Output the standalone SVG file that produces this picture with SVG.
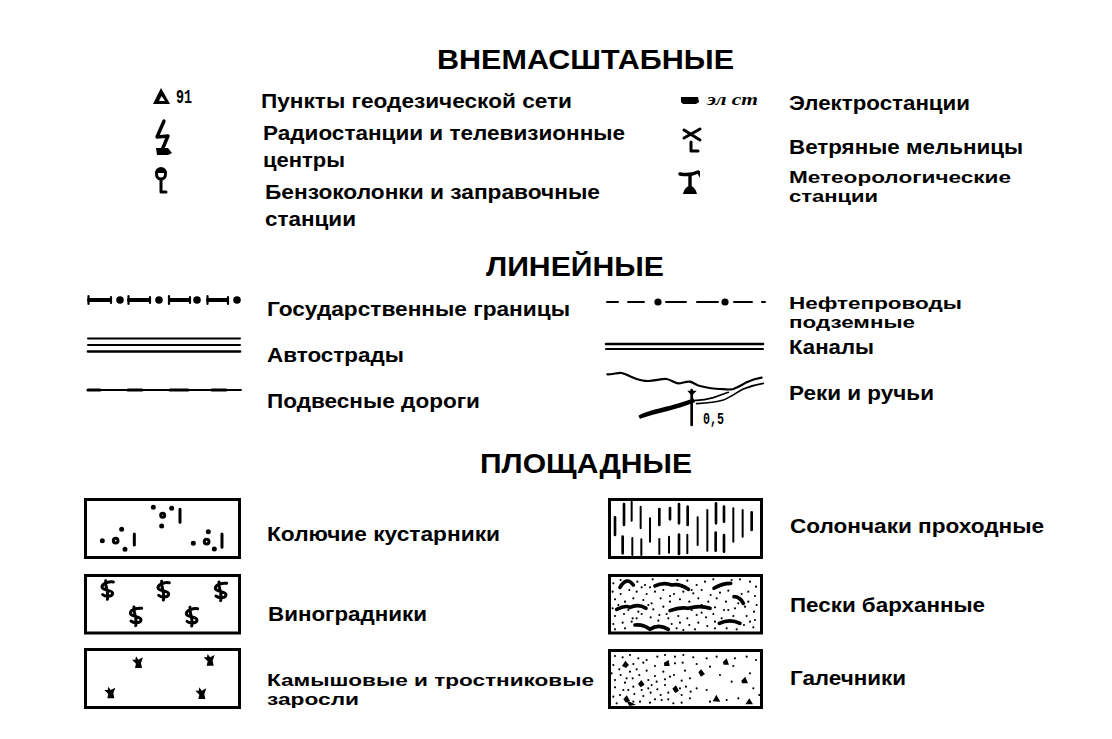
<svg xmlns="http://www.w3.org/2000/svg" xmlns:xlink="http://www.w3.org/1999/xlink" width="1112" height="739" viewBox="0 0 1112 739">
<style>
text{font-family:"Liberation Sans",Arial,sans-serif;font-weight:700;fill:#000}
.t{font-size:27px}
.l{font-size:20px}
.n{font-size:17px}
.s{fill:none;stroke:#000;stroke-linecap:round;stroke-linejoin:round}
.k{fill:#000;stroke:none}
.b{fill:#fff;stroke:#000;stroke-width:3}
.z{fill:none;stroke:#000;stroke-linecap:round;stroke-linejoin:round;stroke-width:11}
</style>
<defs>
<path id="dollar" class="s" stroke-width="9" d="M18-22C6-24-16-18-16-7C-16 4 16 1 16 12C16 22-4 24-14 16M-5-26C-8-8 6 8 0 30"/>
<path id="reed" class="k" d="M-19-10L-9-10L-7-20L0-10L14-17L8 0L11 15L-10 15L-7 2Z"/>
</defs>
<rect width="1112" height="739" fill="#fff"/>

<text class="t" x="437" y="69" textLength="297" lengthAdjust="spacingAndGlyphs">ВНЕМАСШТАБНЫЕ</text>
<text class="t" x="486" y="276" textLength="178" lengthAdjust="spacingAndGlyphs">ЛИНЕЙНЫЕ</text>
<text class="t" x="480" y="473" textLength="212" lengthAdjust="spacingAndGlyphs">ПЛОЩАДНЫЕ</text>

<g id="geodetic">
<path class="k" d="M153 104L161 88L170 104ZM159 101H165L161.500 96Z"/>
<text x="176" y="103" style="font-family:'Liberation Mono',monospace;font-size:20px;font-weight:700" textLength="16" lengthAdjust="spacingAndGlyphs">91</text>
<text class="l" x="261" y="108" textLength="311" lengthAdjust="spacingAndGlyphs">Пункты геодезической сети</text>
</g>
<g id="radio">
<path class="s" stroke-width="3.400" d="M164 121L157 137L168 136L162 150"/>
<path class="k" d="M156 148H168L172 153L168 155H157Z"/>
<text class="l" x="263" y="140" textLength="362" lengthAdjust="spacingAndGlyphs">Радиостанции и телевизионные</text>
<text class="l" x="263" y="167" textLength="82" lengthAdjust="spacingAndGlyphs">центры</text>
</g>
<g id="fuel">
<path class="s" stroke-width="3" d="M156.500 174a4.500 4.500 0 0 1 9 0c0 3-2 5-4.500 5c-2.500 0-4.500-2-4.500-5ZM161 179V192H166"/>
<path class="k" d="M155 173a6 6 0 0 1 12 0Z"/>
<text class="l" x="265" y="199" textLength="335" lengthAdjust="spacingAndGlyphs">Бензоколонки и заправочные</text>
<text class="l" x="265" y="226" textLength="91" lengthAdjust="spacingAndGlyphs">станции</text>
</g>
<g id="power">
<path class="k" d="M681 97H698L699 102L696 104H683L681 102Z"/>
<text x="707" y="105" style="font-family:'Liberation Serif',serif;font-style:italic;font-size:17px" textLength="51" lengthAdjust="spacingAndGlyphs">эл ст</text>
<text class="l" x="789" y="110" textLength="181" lengthAdjust="spacingAndGlyphs">Электростанции</text>
</g>
<g id="windmill">
<path class="s" stroke-width="3" d="M684 130L700 140M684 138L700 129M691 142V151H698"/>
<text class="l" x="789" y="154" textLength="234" lengthAdjust="spacingAndGlyphs">Ветряные мельницы</text>
</g>
<g id="meteo">
<path class="s" stroke-width="3.400" d="M680 174C686 175 692 175 698 172M690 174V188"/>
<path class="k" d="M683 194C684 189 687 186 690 186C693 186 696 189 697 194ZM696 171H700V178Z"/>
<text class="l n" x="789" y="183" textLength="222" lengthAdjust="spacingAndGlyphs">Метеорологические</text>
<text class="l n" x="789" y="202" textLength="89" lengthAdjust="spacingAndGlyphs">станции</text>
</g>

<g id="border">
<path class="s" stroke-width="4" d="M89 300H110M129 300H149M170 300H189M208 300H227"/>
<path class="s" stroke-width="2.200" d="M88.500 296V304M111 297V303M128.500 296V304M150 297V303M169 296V304M190 297V303M207.500 296V304M228 297V304"/>
<circle class="k" cx="120" cy="300" r="3.800"/><circle class="k" cx="159" cy="300" r="3.800"/><circle class="k" cx="197" cy="300" r="3.800"/><circle class="k" cx="237" cy="300" r="3.800"/>
<text class="l" x="267" y="316" textLength="303" lengthAdjust="spacingAndGlyphs">Государственные границы</text>
</g>
<g id="motorway">
<path class="s" stroke-width="2" d="M88 338.500H240M88 345H240"/>
<path class="s" stroke-width="2.600" d="M88 351.500H240"/>
<text class="l" x="267" y="362" textLength="137" lengthAdjust="spacingAndGlyphs">Автострады</text>
</g>
<g id="hanging">
<path class="s" stroke-width="1.800" d="M88 390H241"/>
<path class="s" stroke-width="3.200" d="M88 390H100M128 390H142M170 390H188M212 390H226"/>
<text class="l" x="267" y="408" textLength="213" lengthAdjust="spacingAndGlyphs">Подвесные дороги</text>
</g>
<g id="pipeline">
<path class="s" stroke-width="2" d="M607 302H618M628 302H644M666 302H686M697 302H718M734 302H752M762 302H765"/>
<circle class="k" cx="658" cy="302" r="3.600"/><circle class="k" cx="725" cy="302" r="3.600"/>
<text class="l n" x="789" y="309" textLength="173" lengthAdjust="spacingAndGlyphs">Нефтепроводы</text>
<text class="l n" x="789" y="328" textLength="126" lengthAdjust="spacingAndGlyphs">подземные</text>
</g>
<g id="canal">
<path class="s" stroke-width="2.600" d="M606 344H763"/>
<path class="s" stroke-width="2" d="M606 349H763"/>
<text class="l" x="789" y="354" textLength="85" lengthAdjust="spacingAndGlyphs">Каналы</text>
</g>
<g id="river">
<g transform="translate(600 285) scale(.3333)">
<path class="s" stroke-width="6.500" d="M22 268C40 268 55 262 65 264C80 268 90 275 100 278C115 284 130 288 145 288C165 288 185 280 200 282C215 285 225 295 235 295C247 295 258 288 270 290C282 293 288 301 300 303C320 308 340 312 360 312C375 313 390 315 400 312C415 307 428 298 440 292C455 285 470 280 485 278"/>
<path class="s" stroke-width="5" d="M280 347C300 346 320 344 340 338C355 333 370 328 385 322M290 356C320 354 345 352 370 345C390 338 410 322 430 312C450 304 470 298 490 295"/>
<path class="k" d="M115 392C150 372 220 365 280 340L285 352C230 374 170 385 120 401Z"/>
<path class="s" stroke-width="8" d="M275 315V420"/>
<path class="k" d="M262 317H290L275 332Z"/>
</g>
<text x="703" y="424" style="font-family:'Liberation Mono',monospace;font-size:17px" textLength="21" lengthAdjust="spacingAndGlyphs">0,5</text>
<text class="l" x="789" y="400" textLength="145" lengthAdjust="spacingAndGlyphs">Реки и ручьи</text>
</g>

<g id="thorn">
<rect class="b" x="85.500" y="499.500" width="154" height="58"/>
<g transform="translate(75 490) scale(.3333)">
<path class="s" stroke-width="15" d="M235 52h0M290 55h0M260 108h0M140 118h0M82 152h0M150 178h0M400 125h0M355 160h0M418 177h0"/>
<circle cx="263" cy="76" r="6" class="s" stroke-width="9"/><circle cx="122" cy="152" r="7" class="s" stroke-width="9"/><circle cx="395" cy="155" r="7" class="s" stroke-width="9"/>
<path class="s" stroke-width="9" d="M315 58V97M178 132V165M441 132V172"/>
</g>
<text class="l" x="267" y="541" textLength="233" lengthAdjust="spacingAndGlyphs">Колючие кустарники</text>
</g>
<g id="vineyard">
<rect class="b" x="85.500" y="575.500" width="154" height="57.500"/>
<g transform="translate(75 490) scale(.3333)">
<use xlink:href="#dollar" href="#dollar" x="97" y="298"/><use xlink:href="#dollar" href="#dollar" x="265" y="300"/><use xlink:href="#dollar" href="#dollar" x="437" y="302"/><use xlink:href="#dollar" href="#dollar" x="182" y="377"/><use xlink:href="#dollar" href="#dollar" x="350" y="378"/>
</g>
<text class="l" x="268" y="621" textLength="159" lengthAdjust="spacingAndGlyphs">Виноградники</text>
</g>
<g id="reeds">
<rect class="b" x="85.500" y="649.500" width="154" height="58"/>
<g transform="translate(75 640) scale(.3333)">
<use xlink:href="#reed" href="#reed" x="190" y="69"/><use xlink:href="#reed" href="#reed" x="405" y="62"/><use xlink:href="#reed" href="#reed" x="107" y="160"/><use xlink:href="#reed" href="#reed" x="380" y="162"/>
</g>
<text class="l n" x="267" y="686" textLength="327" lengthAdjust="spacingAndGlyphs">Камышовые и тростниковые</text>
<text class="l n" x="267" y="705" textLength="92" lengthAdjust="spacingAndGlyphs">заросли</text>
</g>

<g id="saltmarsh">
<rect class="b" x="609.500" y="499.500" width="152" height="58"/>
<g transform="translate(600 490) scale(.3333)">
<path class="s" stroke-width="8" d="M45 82V135M72 42V105M178 57V105M210 54V88M237 42V100M263 50V105M348 40V100M372 50V95M455 67V120M68 140V190M237 134V192M347 128V182M372 135V185"/>
<path class="s" stroke-width="6" d="M95 35V92M122 50V115M150 85V155M293 82V165M322 60V125M400 55V155M428 60V140M97 144V195M124 148V195M178 147V192M207 140V188M262 134V190M322 127V182"/>
</g>
<text class="l" x="790" y="533" textLength="254" lengthAdjust="spacingAndGlyphs">Солончаки проходные</text>
</g>
<g id="sand">
<rect class="b" x="609.500" y="575.500" width="152" height="57.500"/>
<g transform="translate(600 490) scale(.3333)">
<path class="s" stroke-width="6.500" d="M40 280h0M62 270h0M112 275h0M135 285h0M158 268h0M232 270h0M262 272h0M290 285h0M315 275h0M340 268h0M395 270h0M420 268h0M450 275h0M468 290h0M38 305h0M62 312h0M88 300h0M110 305h0M140 312h0M165 305h0M190 300h0M222 312h0M250 305h0M280 310h0M305 300h0M332 315h0M360 308h0M385 302h0M445 305h0M465 318h0M45 328h0M75 335h0M100 325h0M130 330h0M155 340h0M182 325h0M210 335h0M240 328h0M268 335h0M295 325h0M325 335h0M350 325h0M378 335h0M445 335h0M470 345h0M38 355h0M160 358h0M190 350h0M345 352h0M372 360h0M405 355h0M435 350h0M462 365h0M45 378h0M72 372h0M98 385h0M125 372h0M152 382h0M178 375h0M205 385h0M235 378h0M262 385h0M290 375h0M318 382h0M340 372h0M440 378h0M465 390h0M40 402h0M68 398h0M95 395h0M215 402h0M240 398h0M268 405h0M295 398h0M322 408h0M345 415h0M432 405h0M460 412h0M45 418h0M75 415h0M230 415h0M250 420h0M285 418h0M380 415h0M410 418h0M125 292h0M150 292h0M210 318h0M245 290h0M275 300h0M305 345h0M385 360h0M415 340h0M55 345h0M85 360h0M115 365h0M145 345h0M200 372h0M275 360h0M305 368h0M365 385h0M400 378h0M425 312h0M450 395h0M110 385h0M175 392h0M345 395h0"/>
<path class="z" d="M60 292Q80 258 100 285M165 288Q190 275 215 285Q240 280 265 298M342 295Q365 280 392 280M402 320Q420 320 430 340M50 358Q75 345 90 352Q115 340 138 355M210 362Q240 350 265 355Q300 345 330 355M358 400Q390 385 420 400M105 405Q130 402 150 418Q175 400 205 418"/>
</g>
<text class="l" x="790" y="612" textLength="195" lengthAdjust="spacingAndGlyphs">Пески барханные</text>
</g>
<g id="gravel">
<rect class="b" x="609.500" y="650.500" width="152" height="57"/>
<g transform="translate(600 640) scale(.3333)">
<path class="s" stroke-width="6.500" d="M45 48h0M68 52h0M90 45h0M115 55h0M140 60h0M172 50h0M195 45h0M225 50h0M250 45h0M280 52h0M320 55h0M350 50h0M405 55h0M440 50h0M468 60h0M40 75h0M100 72h0M130 68h0M165 78h0M225 70h0M248 68h0M290 72h0M330 80h0M400 78h0M35 100h0M62 105h0M90 95h0M118 105h0M140 92h0M165 108h0M190 95h0M222 105h0M255 92h0M360 105h0M450 100h0M45 120h0M75 128h0M98 115h0M145 120h0M170 125h0M195 118h0M245 122h0M270 115h0M395 125h0M45 142h0M70 150h0M100 140h0M145 145h0M172 148h0M195 135h0M258 140h0M290 145h0M460 145h0M40 170h0M103 162h0M130 168h0M152 158h0M182 165h0M205 158h0M245 165h0M272 155h0M320 150h0M120 185h0M150 188h0M185 180h0M220 190h0M245 188h0M270 175h0M330 185h0M380 180h0M415 175h0M478 165h0M50 190h0M100 185h0M58 88h0M80 115h0M110 88h0M155 135h0M210 110h0M240 145h0M60 165h0M85 150h0M125 150h0M165 178h0M205 178h0"/>
<path class="k" d="M66 78L76 62L87 75L78 84ZM192 68L206 60L209 78L193 78ZM369 66L380 55L387 74L371 74ZM295 97L303 88L315 102L303 110ZM424 122L436 110L444 130L426 130ZM114 132L124 120L134 134L122 142ZM217 146L228 136L237 152L226 159ZM70 178L80 166L90 182L78 188ZM338 184L349 164L361 185ZM436 193L448 175L459 193ZM78 180L108 194L88 198Z"/>
</g>
<text class="l" x="790" y="685" textLength="116" lengthAdjust="spacingAndGlyphs">Галечники</text>
</g>
</svg>
